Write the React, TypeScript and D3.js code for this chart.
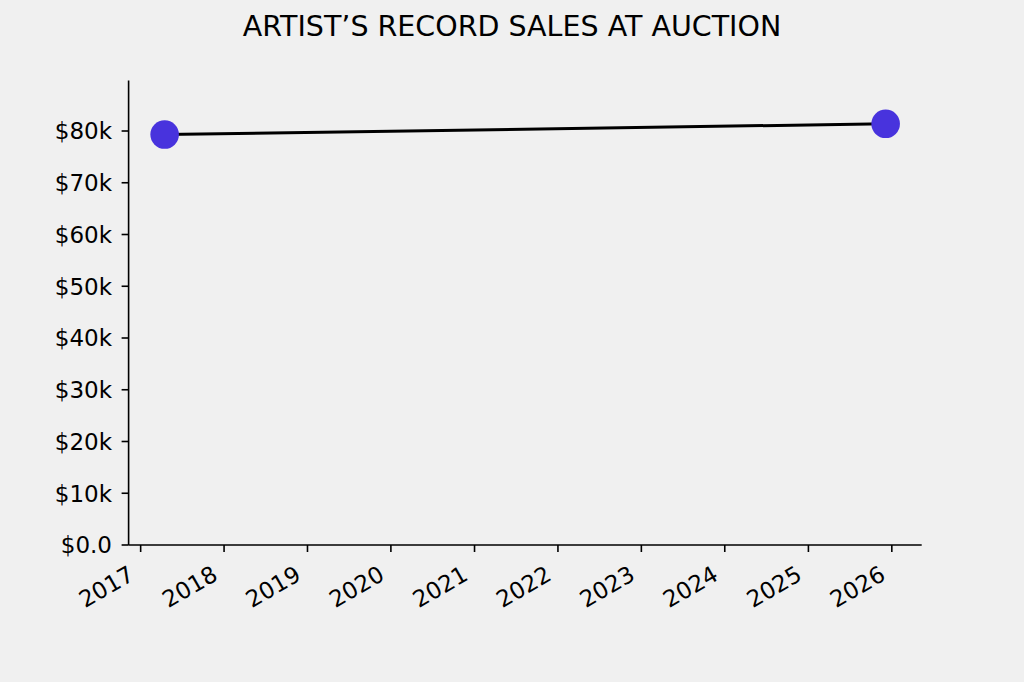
import React from "react";
import * as d3 from "d3";

const title = "ARTIST\u2019S RECORD SALES AT AUCTION";
const saleDates = ["2017-04-16", "2025-12-05"];
const saleValues = [79320, 81390];
const yDomainMax = 89760;
const yTickValues = [0, 10000, 20000, 30000, 40000, 50000, 60000, 70000, 80000];
const yTickLabels = ["$0.0", "$10k", "$20k", "$30k", "$40k", "$50k", "$60k", "$70k", "$80k"];
const xTickYears = [2017, 2018, 2019, 2020, 2021, 2022, 2023, 2024, 2025, 2026];

const W = 1024;
const H = 682;
const left = 128.6;
const right = 921.7;
const top = 80.5;
const bottom = 545;
const FONT = "DejaVu Sans, sans-serif";

export default function App() {
  const dates = saleDates.map((s) => new Date(s + "T00:00:00"));
  const t0 = +dates[0];
  const t1 = +dates[dates.length - 1];
  const pad = (t1 - t0) * 0.05;
  const x = d3.scaleTime().domain([new Date(t0 - pad), new Date(t1 + pad)]).range([left, right]);
  const y = d3.scaleLinear().domain([0, yDomainMax]).range([bottom, top]);
  const line = d3
    .line<number>()
    .x((_, i) => x(dates[i]))
    .y((v) => y(v));

  return (
    <div style={{ position: "absolute", left: 0, top: 0 }}>
      <svg width={W} height={H} style={{ display: "block", background: "#f0f0f0" }}>
        <rect width={W} height={H} fill="#f0f0f0" />
        <text x={W / 2} y={36} textAnchor="middle" fontFamily={FONT} fontSize={28.5} fill="#000">
          {title}
        </text>
        {yTickValues.map((v, i) => (
          <g key={"y" + v}>
            <line x1={left - 7} x2={left} y1={y(v)} y2={y(v)} stroke="#000" strokeWidth={1.6} />
            <text x={112} y={y(v)} dy="0.36em" textAnchor="end" fontFamily={FONT} fontSize={23} fill="#000">
              {yTickLabels[i]}
            </text>
          </g>
        ))}
        {xTickYears.map((yr) => {
          const px = x(new Date(yr, 0, 1));
          return (
            <g key={"x" + yr}>
              <line x1={px} x2={px} y1={bottom} y2={bottom + 7} stroke="#000" strokeWidth={1.6} />
              <text
                transform={`translate(${px - 5},${579}) rotate(-30)`}
                textAnchor="end"
                fontFamily={FONT}
                fontSize={23}
                fill="#000"
              >
                {yr}
              </text>
            </g>
          );
        })}
        <line x1={left} x2={left} y1={top} y2={bottom} stroke="#000" strokeWidth={1.6} />
        <line x1={left} x2={right} y1={bottom} y2={bottom} stroke="#000" strokeWidth={1.6} />
        <path d={line(saleValues) || ""} fill="none" stroke="#000" strokeWidth={3} />
        {saleValues.map((v, i) => (
          <circle key={"p" + i} cx={x(dates[i])} cy={y(v)} r={14.3} fill="#4833dd" />
        ))}
      </svg>
    </div>
  );
}
